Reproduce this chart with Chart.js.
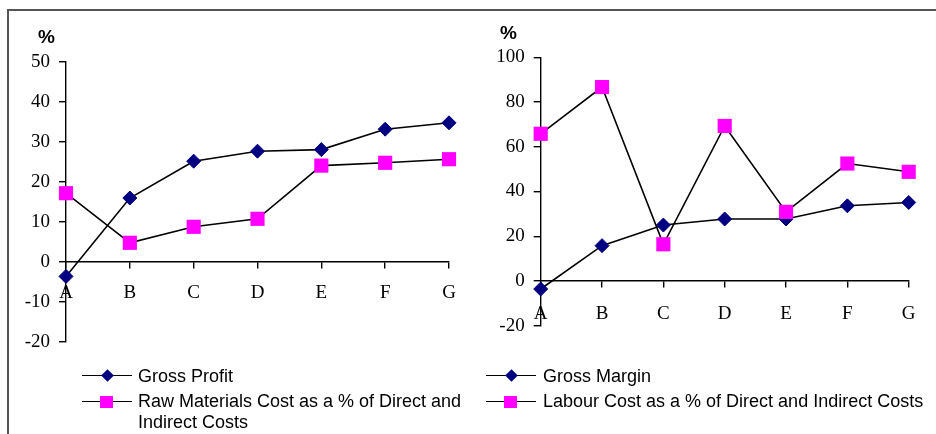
<!DOCTYPE html>
<html>
<head>
<meta charset="utf-8">
<script src="https://cdn.jsdelivr.net/npm/chart.js@4/dist/chart.umd.min.js"></script>
<style>
  html, body { margin: 0; padding: 0; background: #fff; }
  #page { position: relative; width: 936px; height: 434px; overflow: hidden; }
  #frame { position: absolute; left: 7px; top: 9px; width: 940px; height: 440px;
           border-top: 2px solid #555; border-left: 2px solid #555; }
  canvas { position: absolute; top: 0; }
  .pct { position: absolute; font: bold 19px "Liberation Sans", Arial, sans-serif; color: #000;
         line-height: 20px; }
  .item { position: absolute; font: 18px "Liberation Sans", Arial, sans-serif; color: #000;
          line-height: 20.5px; }
  .key { position: absolute; width: 50px; height: 0; border-top: 1.6px solid #000; }
  .dia { position: absolute; left: 20.5px; top: -5.5px; width: 9px; height: 9px; background: #000080;
         transform: rotate(45deg); }
  .sq { position: absolute; left: 18px; top: -6.5px; width: 13px; height: 12px; background: #ff00ff; }
</style>
</head>
<body>
<div id="page">
  <div id="frame"></div>
  <canvas id="leftChart" width="470" height="434" style="left:0"></canvas>
  <canvas id="rightChart" width="466" height="434" style="left:470px"></canvas>
  <div class="pct" style="left:38px; top:27px">%</div>
  <div class="pct" style="left:500px; top:23px">%</div>

  <div class="key" style="left:82px; top:375px"><div class="dia"></div></div>
  <div class="item" style="left:138px; top:366px">Gross Profit</div>
  <div class="key" style="left:486px; top:375px"><div class="dia"></div></div>
  <div class="item" style="left:543px; top:366px">Gross Margin</div>
  <div class="key" style="left:82px; top:401px"><div class="sq"></div></div>
  <div class="item" style="left:138px; top:391px">Raw Materials Cost as a % of Direct and<br>Indirect Costs</div>
  <div class="key" style="left:486px; top:401px"><div class="sq"></div></div>
  <div class="item" style="left:543px; top:391px">Labour Cost as a % of Direct and Indirect Costs</div>
</div>
<script>
// Data
const categories = ['A', 'B', 'C', 'D', 'E', 'F', 'G'];

const grossProfit = [-3.6, 16, 25.2, 27.7, 28.1, 33.2, 34.8];
const rawMaterialsPct = [17.2, 4.8, 8.8, 10.8, 24.1, 24.8, 25.7];

const grossMargin = [-3.6, 15.8, 25, 27.7, 27.7, 33.6, 35.1];
const labourPct = [65.8, 86.7, 16.4, 69.3, 30.9, 52.5, 48.8];

const leftTicks = [-20, -10, 0, 10, 20, 30, 40, 50];
const rightTicks = [-20, 0, 20, 40, 60, 80, 100];

const tickFont = { family: '"Liberation Serif", "Times New Roman", serif', size: 19 };

function diamondSeries(label, values) {
    return {
        label: label,
        data: values,
        borderColor: '#000',
        borderWidth: 1.6,
        pointStyle: 'rectRot',
        pointRadius: 7,
        pointBackgroundColor: '#000080',
        pointBorderColor: '#000080',
        pointBorderWidth: 1,
        clip: false,
        order: 2
    };
}

function squareSeries(label, values) {
    return {
        label: label,
        data: values,
        borderColor: '#000',
        borderWidth: 1.6,
        pointStyle: 'rect',
        pointRadius: 10,
        pointBackgroundColor: '#ff00ff',
        pointBorderColor: '#ff00ff',
        pointBorderWidth: 0,
        clip: false,
        order: 1
    };
}

function initPanel(canvasId, datasets, ticks, padding, labelPad) {
    const ctx = document.getElementById(canvasId);
    if (!ctx) return;

    new Chart(ctx, {
        type: 'line',
        data: {
            labels: categories,
            datasets: datasets
        },
        options: {
            responsive: false,
            animation: false,
            layout: { padding: padding },
            plugins: {
                legend: { display: false },
                tooltip: { enabled: false }
            },
            scales: {
                x: {
                    type: 'category',
                    offset: false,
                    position: { y: 0 },
                    afterFit: function (scale) { scale.height = 0; },
                    grid: {
                        drawOnChartArea: false,
                        drawTicks: true,
                        tickLength: 6,
                        color: '#000',
                        lineWidth: 1.4
                    },
                    border: { display: true, color: '#000', width: 1.4 },
                    ticks: { color: '#000', font: tickFont, padding: labelPad, autoSkip: false, maxRotation: 0 }
                },
                y: {
                    min: ticks[0],
                    max: ticks[ticks.length - 1],
                    afterFit: function (scale) { scale.width = 60; },
                    grid: {
                        drawOnChartArea: false,
                        drawTicks: true,
                        tickLength: 7,
                        color: '#000',
                        lineWidth: 1.4
                    },
                    border: { display: true, color: '#000', width: 1.4 },
                    ticks: {
                        stepSize: ticks[1] - ticks[0],
                        color: '#000',
                        font: tickFont,
                        padding: 9
                    }
                }
            }
        }
    });
}

initPanel('leftChart',
    [diamondSeries('Gross Profit', grossProfit),
     squareSeries('Raw Materials Cost as a % of Direct and Indirect Costs', rawMaterialsPct)],
    leftTicks,
    { left: 6, right: 21, top: 62, bottom: 92 },
    14);

initPanel('rightChart',
    [diamondSeries('Gross Margin', grossMargin),
     squareSeries('Labour Cost as a % of Direct and Indirect Costs', labourPct)],
    rightTicks,
    { left: 10.7, right: 27.3, top: 57.3, bottom: 108.3 },
    16);
</script>
</body>
</html>
